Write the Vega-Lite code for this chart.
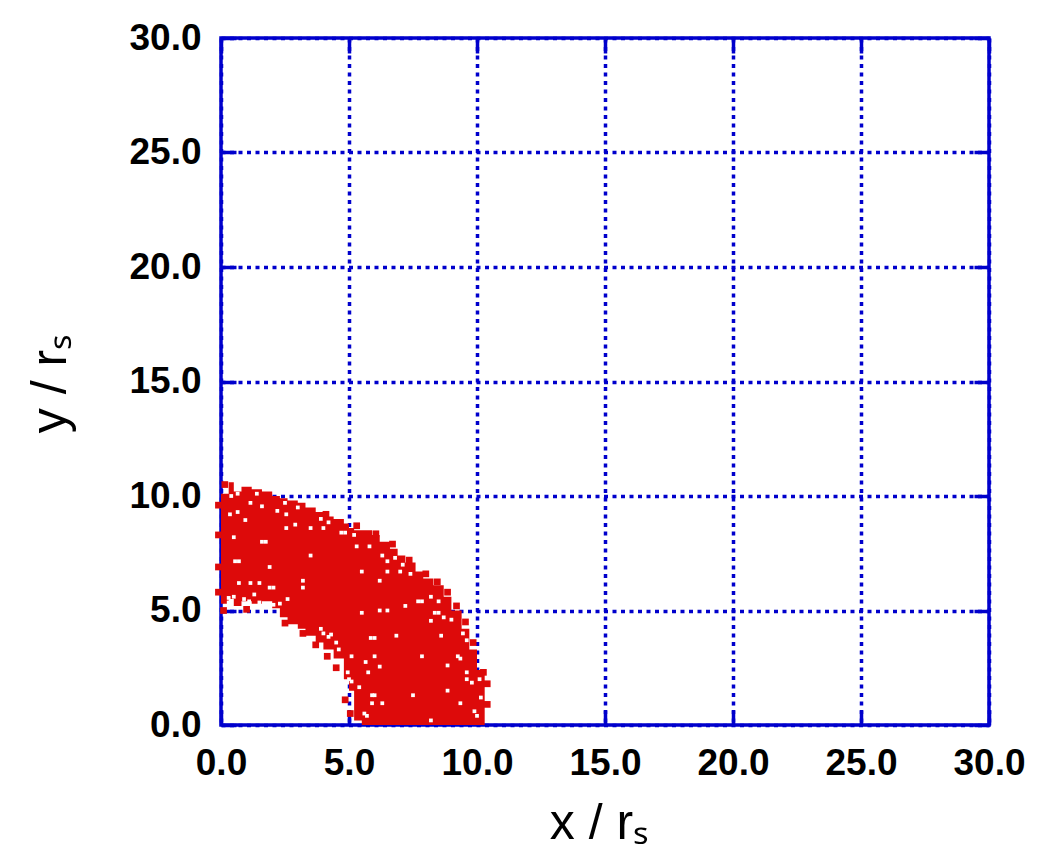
{
  "$schema": "https://vega.github.io/schema/vega-lite/v6.json",
  "width": 768,
  "height": 687,
  "autosize": "none",
  "padding": {"left": 221, "top": 38, "right": 49, "bottom": 136},
  "background": "white",
  "config": {
    "view": {"stroke": "#0000cc", "strokeWidth": 3.5},
    "axis": {
      "domain": false,
      "gridColor": "#0000cc",
      "gridWidth": 3.5,
      "gridDash": [4, 4.5],
      "gridOpacity": 1,
      "tickColor": "#0000cc",
      "tickWidth": 3.5,
      "tickSize": -15,
      "labelFlush": false,
      "labelOverlap": false,
      "labelFont": "Liberation Sans",
      "labelFontWeight": "bold",
      "labelFontSize": 37,
      "labelColor": "#000000",
      "titleFont": "Liberation Sans",
      "titleFontWeight": "normal",
      "titleFontSize": 50,
      "titleColor": "#000000"
    }
  },
  "datasets": {
    "body": [
      {"x": 0.0, "top": 10.1, "bot": 5.3},
      {"x": 0.3, "top": 10.6, "bot": 5.5},
      {"x": 0.5, "top": 10.2, "bot": 5.2},
      {"x": 0.8, "top": 10.4, "bot": 5.4},
      {"x": 1.2, "top": 10.3, "bot": 5.3},
      {"x": 1.6, "top": 10.2, "bot": 5.4},
      {"x": 2.0, "top": 10.0, "bot": 5.1},
      {"x": 2.3, "top": 9.9, "bot": 4.7},
      {"x": 2.6, "top": 9.8, "bot": 4.4},
      {"x": 3.0, "top": 9.7, "bot": 4.2},
      {"x": 3.3, "top": 9.5, "bot": 3.9},
      {"x": 3.7, "top": 9.3, "bot": 3.6},
      {"x": 4.0, "top": 9.1, "bot": 3.3},
      {"x": 4.4, "top": 9.0, "bot": 2.9},
      {"x": 4.8, "top": 8.8, "bot": 2.0},
      {"x": 5.0, "top": 8.6, "bot": 1.5},
      {"x": 5.2, "top": 8.5, "bot": 0.2},
      {"x": 5.5, "top": 8.5, "bot": 0.0},
      {"x": 5.9, "top": 8.3, "bot": 0.0},
      {"x": 6.2, "top": 8.0, "bot": 0.0},
      {"x": 6.6, "top": 7.7, "bot": 0.0},
      {"x": 6.9, "top": 7.4, "bot": 0.0},
      {"x": 7.2, "top": 7.1, "bot": 0.0},
      {"x": 7.6, "top": 6.7, "bot": 0.0},
      {"x": 7.9, "top": 6.4, "bot": 0.0},
      {"x": 8.3, "top": 6.1, "bot": 0.0},
      {"x": 8.7, "top": 5.6, "bot": 0.0},
      {"x": 9.0, "top": 5.0, "bot": 0.0},
      {"x": 9.4, "top": 4.2, "bot": 0.0},
      {"x": 9.7, "top": 3.3, "bot": 0.0},
      {"x": 10.0, "top": 2.4, "bot": 0.0},
      {"x": 10.3, "top": 0.0, "bot": 0.0}
    ],
    "fringe": [
      {"x": 5.3, "y": 8.7}, {"x": 6.05, "y": 8.35}, {"x": 6.7, "y": 7.9}, {"x": 7.35, "y": 7.2},
      {"x": 8.0, "y": 6.6}, {"x": 8.45, "y": 6.25}, {"x": 8.85, "y": 5.8}, {"x": 9.2, "y": 5.2},
      {"x": 9.55, "y": 4.5}, {"x": 9.85, "y": 3.6}, {"x": 10.4, "y": 1.8}, {"x": 10.4, "y": 0.9},
      {"x": 4.15, "y": 3.0}, {"x": 4.5, "y": 2.5}, {"x": 4.85, "y": 1.1}, {"x": 5.05, "y": 0.5},
      {"x": 2.5, "y": 4.45}, {"x": 3.2, "y": 4.0}, {"x": 1.0, "y": 5.05}, {"x": 0.1, "y": 5.0},
      {"x": 3.7, "y": 3.5}, {"x": 0.15, "y": 10.5}, {"x": 4.1, "y": 9.2}, {"x": 10.25, "y": 2.3},
      {"x": -0.1, "y": 9.6}, {"x": -0.1, "y": 8.3}, {"x": -0.1, "y": 6.9}, {"x": -0.1, "y": 5.8}
    ],
    "holes": [
      {"x": 0.65, "y": 10.1}, {"x": 1.15, "y": 9.7}, {"x": 1.6, "y": 9.55}, {"x": 2.2, "y": 9.35},
      {"x": 2.55, "y": 9.2}, {"x": 0.35, "y": 9.2}, {"x": 0.65, "y": 9.3}, {"x": 0.95, "y": 8.95},
      {"x": 2.9, "y": 8.75}, {"x": 3.5, "y": 8.6}, {"x": 4.0, "y": 8.6}, {"x": 2.55, "y": 8.6},
      {"x": 4.7, "y": 8.4}, {"x": 4.85, "y": 8.4}, {"x": 0.5, "y": 8.2}, {"x": 1.6, "y": 8.0},
      {"x": 1.75, "y": 8.0}, {"x": 3.5, "y": 7.4}, {"x": 0.55, "y": 7.15}, {"x": 0.7, "y": 7.15},
      {"x": 1.9, "y": 6.9}, {"x": 3.2, "y": 6.3}, {"x": 0.7, "y": 6.2}, {"x": 1.15, "y": 6.2},
      {"x": 1.5, "y": 6.2}, {"x": 1.9, "y": 6.0}, {"x": 2.05, "y": 6.0}, {"x": 3.2, "y": 6.0},
      {"x": 5.3, "y": 7.8}, {"x": 5.8, "y": 7.8}, {"x": 6.3, "y": 7.4}, {"x": 6.5, "y": 7.15},
      {"x": 5.5, "y": 6.7}, {"x": 6.5, "y": 6.7}, {"x": 7.0, "y": 6.7}, {"x": 6.2, "y": 6.3},
      {"x": 7.7, "y": 5.4}, {"x": 7.85, "y": 5.4}, {"x": 8.2, "y": 5.6}, {"x": 6.2, "y": 5.0},
      {"x": 6.5, "y": 5.0}, {"x": 7.2, "y": 5.2}, {"x": 5.5, "y": 4.9}, {"x": 8.35, "y": 4.9},
      {"x": 8.5, "y": 4.9}, {"x": 8.7, "y": 4.7}, {"x": 8.2, "y": 4.55}, {"x": 6.85, "y": 3.9},
      {"x": 8.6, "y": 3.9}, {"x": 5.85, "y": 3.8}, {"x": 6.0, "y": 3.8}, {"x": 5.1, "y": 3.0},
      {"x": 6.0, "y": 3.0}, {"x": 7.85, "y": 3.0}, {"x": 9.25, "y": 3.0}, {"x": 9.35, "y": 2.9},
      {"x": 5.65, "y": 2.75}, {"x": 6.2, "y": 2.55}, {"x": 5.75, "y": 2.3}, {"x": 8.85, "y": 2.6},
      {"x": 9.6, "y": 2.3}, {"x": 9.6, "y": 2.0}, {"x": 9.8, "y": 1.85}, {"x": 5.4, "y": 1.65},
      {"x": 5.9, "y": 1.3}, {"x": 6.0, "y": 1.3}, {"x": 7.5, "y": 1.3}, {"x": 8.85, "y": 1.5},
      {"x": 5.9, "y": 0.95}, {"x": 6.3, "y": 0.95}, {"x": 9.35, "y": 0.95}, {"x": 5.6, "y": 0.5},
      {"x": 5.7, "y": 0.4}, {"x": 8.2, "y": 0.2}, {"x": 10.0, "y": 0.4},
      {"x": 0.3, "y": 5.55}, {"x": 0.5, "y": 5.6}, {"x": 0.3, "y": 5.35}, {"x": 0.9, "y": 5.5},
      {"x": 1.1, "y": 5.4}, {"x": 1.5, "y": 5.35}, {"x": 2.6, "y": 5.5}, {"x": 2.05, "y": 5.25},
      {"x": 2.3, "y": 5.3}, {"x": 1.3, "y": 5.7}, {"x": 3.9, "y": 4.2}, {"x": 4.0, "y": 4.0},
      {"x": 4.3, "y": 3.95}, {"x": 4.5, "y": 3.6}, {"x": 4.6, "y": 3.3}, {"x": 4.95, "y": 2.3},
      {"x": 5.0, "y": 2.0}, {"x": 5.1, "y": 1.9}, {"x": 4.2, "y": 3.85},
      {"x": 9.45, "y": 4.0}, {"x": 9.6, "y": 3.7}, {"x": 10.1, "y": 2.0}, {"x": 10.15, "y": 1.2},
      {"x": 9.9, "y": 0.6}, {"x": 7.4, "y": 6.6}, {"x": 7.1, "y": 7.0}, {"x": 6.8, "y": 7.3},
      {"x": 8.5, "y": 5.4}, {"x": 9.0, "y": 4.6}, {"x": 3.0, "y": 9.5}, {"x": 3.9, "y": 9.0},
      {"x": 4.2, "y": 8.85}, {"x": 5.2, "y": 8.3}, {"x": 0.4, "y": 10.0}, {"x": 1.4, "y": 10.1},
      {"x": 2.5, "y": 9.7}
    ]
  },
  "layer": [
    {
      "data": {"name": "body"},
      "mark": {"type": "area", "interpolate": "step-after", "color": "#dd0a0a", "opacity": 1},
      "encoding": {
        "x": {
          "field": "x", "type": "quantitative",
          "scale": {"domain": [0, 30], "nice": false, "zero": false},
          "axis": {
            "orient": "bottom", "values": [0, 5, 10, 15, 20, 25, 30], "format": ".1f",
            "grid": true, "labelPadding": 35, "labelBaseline": "top",
            "title": "x / rₛ", "titleX": 378, "titleY": 113, "titleAlign": "center",
            "titleBaseline": "alphabetic", "titleAnchor": null
          }
        },
        "y": {
          "field": "top", "type": "quantitative",
          "scale": {"domain": [0, 30], "nice": false, "zero": false},
          "axis": {
            "orient": "left", "values": [0, 5, 10, 15, 20, 25, 30], "format": ".1f",
            "grid": true, "labelPadding": 35,
            "title": "y / rₛ", "titleX": -156, "titleY": 345, "titleAngle": 270,
            "titleAlign": "center", "titleBaseline": "alphabetic", "titleAnchor": null
          }
        },
        "y2": {"field": "bot"}
      }
    },
    {
      "data": {"name": "fringe"},
      "mark": {"type": "square", "color": "#dd0a0a", "size": 45, "opacity": 1},
      "encoding": {
        "x": {"field": "x", "type": "quantitative", "axis": null},
        "y": {"field": "y", "type": "quantitative", "axis": null}
      }
    },
    {
      "data": {"name": "holes"},
      "mark": {"type": "square", "color": "#ffffff", "size": 14, "opacity": 1},
      "encoding": {
        "x": {
          "field": "x", "type": "quantitative",
          "axis": {"orient": "top", "values": [0, 5, 10, 15, 20, 25, 30], "grid": false, "labels": false, "title": null}
        },
        "y": {
          "field": "y", "type": "quantitative",
          "axis": {"orient": "right", "values": [0, 5, 10, 15, 20, 25, 30], "grid": false, "labels": false, "title": null}
        }
      }
    }
  ],
  "resolve": {"axis": {"x": "independent", "y": "independent"}}
}
